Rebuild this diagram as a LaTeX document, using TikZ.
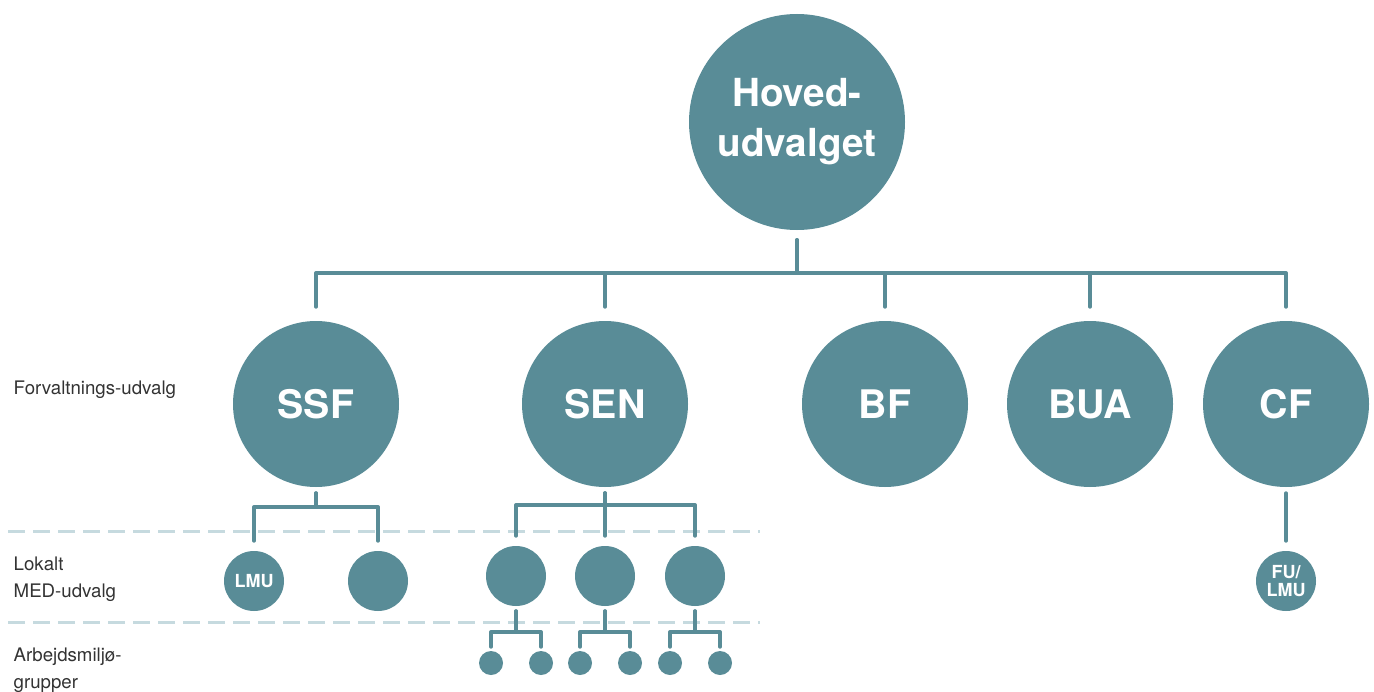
\documentclass[tikz,border=0pt]{standalone}
\usepackage{fontspec}
\setmainfont{TeX Gyre Heros}
\usepackage{tikz}
\usetikzlibrary{positioning}
\usepackage{xcolor}
\definecolor{Teal}{HTML}{598C97}
\definecolor{DashBlue}{HTML}{C6DADF}
\definecolor{LabelGray}{HTML}{333333}

\begin{document}
\begin{tikzpicture}[x=0.75pt, y=-0.75pt,
    unit/.style={circle, fill=Teal, text=white, align=center, inner sep=0pt},
    conn/.style={draw=Teal, line width=3pt, line cap=round, line join=round},
    levelline/.style={draw=DashBlue, line width=2.25pt, dash pattern=on 12.75pt off 6pt},
    lvllabel/.style={anchor=base west, text=LabelGray, align=left,
                     font=\fontsize{14}{20}\selectfont}]

  \useasboundingbox (0,0) rectangle (1374,692);

  % dashed level lines
  \draw[levelline] (8,531) -- (760,531);
  \draw[levelline] (8,622) -- (760,622);

  % level labels (base = last line)
  \node[lvllabel] (forv) at (9,394) {Forvaltnings-udvalg};
  \node[lvllabel] (lokal) at (9,597) {Lokalt\\MED-udvalg};
  \node[lvllabel] (arbm) at (9,688) {Arbejdsmiljø-\\grupper};

  % top
  \node[unit, minimum size=162pt, font=\bfseries\fontsize{29}{37.5}\selectfont]
    (hoved) at (797,122) {Hoved-\\udvalget};
  \coordinate (topbus) at (797,273);

  \foreach \name/\x/\txt in {ssf/316/SSF, sen/605/SEN, bf/885/BF, bua/1090/BUA, cf/1286/CF}{
    \node[unit, minimum size=124.5pt, font=\bfseries\fontsize{29.5}{34}\selectfont]
      (\name) at (\x,404) {\txt};
    \draw[conn] ([yshift=-7.5pt]hoved.south) |- (\name.north |- topbus)
      -- ([yshift=10.5pt]\name.north);
  }

  % SSF
  \node[unit, minimum size=45pt, font=\bfseries\fontsize{13.5}{14}\selectfont]
    (lmu) at (254,581) {LMU};
  \node[unit, minimum size=45pt] (ssfb) at (378,581) {};
  \coordinate (ssfbus) at (316,507);
  \foreach \kid in {lmu, ssfb}{
    \draw[conn] ([yshift=-4.5pt]ssf.south) |- (\kid.north |- ssfbus)
      -- ([yshift=7.5pt]\kid.north);
  }

  % SEN
  \coordinate (senbus) at (605,505);
  \foreach \i/\x in {1/516, 2/605, 3/695}{
    \node[unit, minimum size=45pt] (sen\i) at (\x,576) {};
    \draw[conn] ([yshift=-4.5pt]sen.south) |- (sen\i.north |- senbus)
      -- ([yshift=7.5pt]sen\i.north);
    \coordinate (grpbus\i) at (\x,632);
    \node[unit, minimum size=18pt] (grp\i-1) at ({\x-25},663) {};
    \node[unit, minimum size=18pt] (grp\i-2) at ({\x+25},663) {};
    \foreach \j in {1,2}{
      \draw[conn] ([yshift=-3.75pt]sen\i.south) |- (grp\i-\j.north |- grpbus\i)
        -- ([yshift=3pt]grp\i-\j.north);
    }
  }

  % CF
  \node[unit, minimum size=45pt, font=\bfseries\fontsize{13.5}{13.5}\selectfont]
    (fulmu) at (1286,581) {FU/\\LMU};
  \draw[conn] ([yshift=-4.5pt]cf.south) -- ([yshift=7.5pt]fulmu.north);
\end{tikzpicture}
\end{document}
